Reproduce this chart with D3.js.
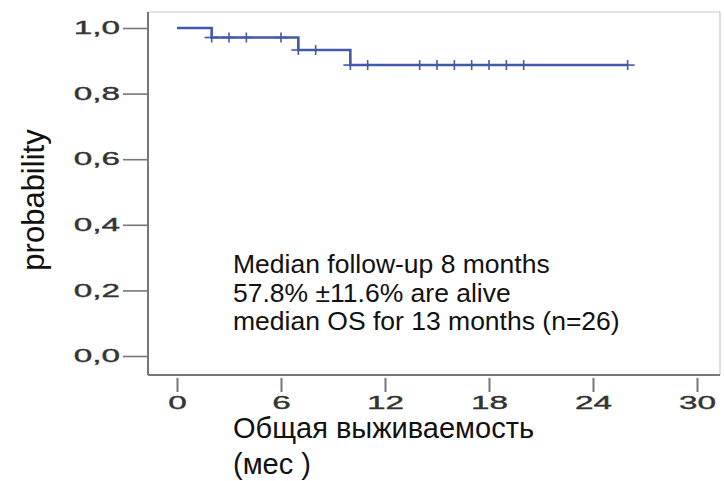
<!DOCTYPE html>
<html>
<head>
<meta charset="utf-8">
<script src="https://cdn.jsdelivr.net/npm/d3@7"></script>
<style>
  html, body { margin: 0; padding: 0; background: #fff; }
  svg { display: block; font-family: "Liberation Sans", Arial, sans-serif; }
</style>
</head>
<body>
<svg id="chart" width="724" height="481"></svg>
<script>
// Kaplan–Meier overall survival: step levels (time in months, survival probability)
const stepTimes = [0, 2, 7, 10];
const stepSurvival = [1.0, 0.971, 0.933, 0.887];
const followEnd = 26;

// Censored observations (months)
const censorTimes = [2, 3, 4, 6, 7, 8, 10, 11, 14, 15, 16, 17, 18, 19, 20, 26];

// Axis ticks
const xTicks = [0, 6, 12, 18, 24, 30];
const yTicks = [0, 0.2, 0.4, 0.6, 0.8, 1.0];

// Annotation text
const noteLines = [
  "Median follow-up 8 months",
  "57.8% \u00B111.6% are alive",
  "median OS for 13 months (n=26)"
];
const xTitleLines = ["Общая выживаемость", "(мес )"];
const yTitle = "probability";

const svg = d3.select("#chart");
const curveColor = "#4259ab";
const axisColor = "#777";

const frame = { left: 148, right: 720, top: 12, bottom: 375 };
const x = d3.scaleLinear().domain([0, 30]).range([177, 697]);
const y = d3.scaleLinear().domain([0, 1]).range([356, 28]);

// plot frame: light top/right edges, darker axis edges
svg.append("line").attr("x1", frame.left).attr("x2", frame.right)
  .attr("y1", frame.top).attr("y2", frame.top)
  .attr("stroke", "#c8c8c8").attr("stroke-width", 1.2);
svg.append("line").attr("x1", frame.right).attr("x2", frame.right)
  .attr("y1", frame.top).attr("y2", frame.bottom)
  .attr("stroke", "#c8c8c8").attr("stroke-width", 1.2);
svg.append("line").attr("x1", frame.left).attr("x2", frame.right)
  .attr("y1", frame.bottom).attr("y2", frame.bottom)
  .attr("stroke", axisColor).attr("stroke-width", 2);
svg.append("line").attr("x1", frame.left).attr("x2", frame.left)
  .attr("y1", frame.top).attr("y2", frame.bottom)
  .attr("stroke", axisColor).attr("stroke-width", 2);

// y axis
const yAxis = svg.append("g")
  .attr("transform", `translate(${frame.left},0)`)
  .call(d3.axisLeft(y).tickValues(yTicks).tickSize(25).tickPadding(3)
    .tickFormat(d => d.toFixed(1).replace(".", ",")));
yAxis.select(".domain").remove();
yAxis.selectAll(".tick line").attr("stroke", axisColor).attr("stroke-width", 1.6);
yAxis.selectAll(".tick text")
  .attr("x", 0)
  .attr("transform", "translate(-28,0) scale(1.85,1)")
  .attr("font-size", 18)
  .attr("font-family", "Liberation Sans, Arial, sans-serif")
  .attr("fill", "#333")
  .attr("stroke", "#333").attr("stroke-width", 0.35);

// x axis (detached below the frame)
const xAxis = svg.append("g")
  .attr("transform", `translate(0,${frame.bottom + 3})`)
  .call(d3.axisBottom(x).tickValues(xTicks).tickSize(14).tickPadding(4)
    .tickFormat(d3.format("d")));
xAxis.select(".domain").remove();
xAxis.selectAll(".tick line").attr("stroke", axisColor).attr("stroke-width", 2);
xAxis.selectAll(".tick text")
  .attr("transform", "scale(1.85,1)")
  .attr("x", 0)
  .attr("font-size", 18)
  .attr("font-family", "Liberation Sans, Arial, sans-serif")
  .attr("fill", "#333")
  .attr("stroke", "#333").attr("stroke-width", 0.35);

// survival step curve
const stepData = stepTimes.map((t, i) => ({ t, s: stepSurvival[i] }));
stepData.push({ t: followEnd, s: stepSurvival[stepSurvival.length - 1] });
const line = d3.line().x(d => x(d.t)).y(d => y(d.s)).curve(d3.curveStepAfter);
svg.append("path").datum(stepData)
  .attr("d", line)
  .attr("fill", "none")
  .attr("stroke", curveColor)
  .attr("stroke-width", 2.6);

// survival level at a given time (right-continuous)
function survivalAt(t) {
  let s = stepSurvival[0];
  stepTimes.forEach((st, i) => { if (t >= st) s = stepSurvival[i]; });
  return s;
}

// censor marks as small plus signs
const marks = svg.append("g").attr("stroke", curveColor).attr("stroke-width", 1.6);
censorTimes.forEach(t => {
  const cx = x(t), cy = y(survivalAt(t));
  marks.append("line").attr("x1", cx).attr("x2", cx).attr("y1", cy - 5).attr("y2", cy + 5);
  marks.append("line").attr("x1", cx - 7).attr("x2", cx + 7).attr("y1", cy).attr("y2", cy);
});

// annotation block
const note = svg.append("g").attr("font-size", 26.5).attr("fill", "#111");
noteLines.forEach((s, i) => {
  note.append("text").attr("x", 233).attr("y", 273 + i * 28.5).text(s);
});

// axis titles
const xt = svg.append("g").attr("font-size", 29).attr("fill", "#111");
xTitleLines.forEach((s, i) => {
  xt.append("text").attr("x", 233).attr("y", 438 + i * 36).text(s);
});

svg.append("text")
  .attr("transform", "translate(44,200) rotate(-90)")
  .attr("text-anchor", "middle")
  .attr("font-size", 31)
  .attr("fill", "#111")
  .text(yTitle);
</script>
</body>
</html>
